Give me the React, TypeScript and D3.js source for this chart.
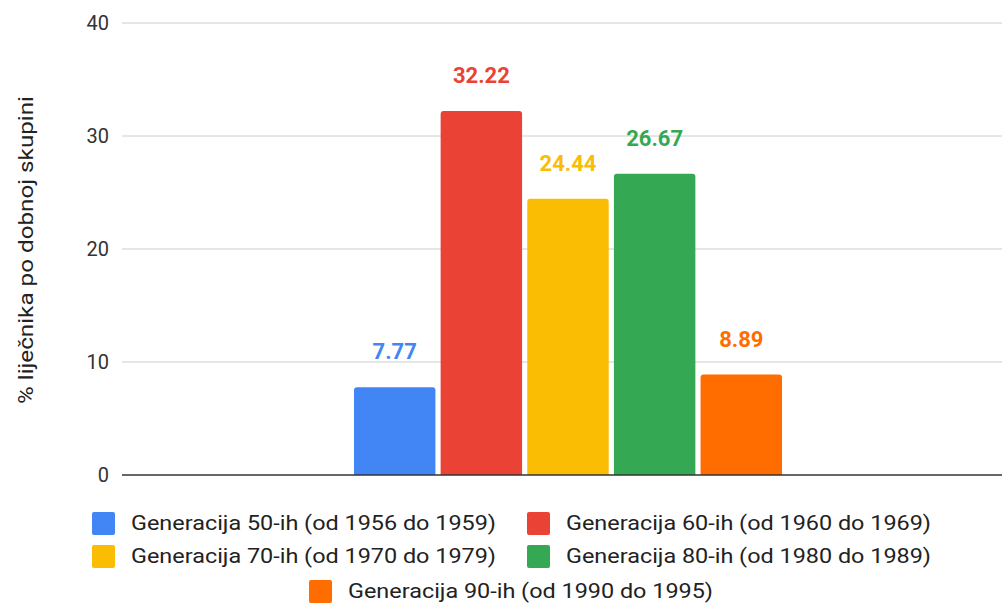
import React from "react";
import * as d3 from "d3";

const categories = [""];
const seriesNames = [
  "Generacija 50-ih (od 1956 do 1959)",
  "Generacija 60-ih (od 1960 do 1969)",
  "Generacija 70-ih (od 1970 do 1979)",
  "Generacija 80-ih (od 1980 do 1989)",
  "Generacija 90-ih (od 1990 do 1995)",
];
const seriesValues = [7.77, 32.22, 24.44, 26.67, 8.89];
const seriesColors = ["#4285F4", "#EA4335", "#FBBC04", "#34A853", "#FF6D01"];
const yTicks = [0, 10, 20, 30, 40];
const yTitle = "% liječnika po dobnoj skupini";

const W = 1002;
const H = 603;
const left = 122;
const right = 1014;
const top = 23;
const bottom = 475;

function roundTopRect(x: number, y: number, w: number, h: number, r: number) {
  const rr = Math.min(r, h, w / 2);
  return `M${x},${y + h}V${y + rr}Q${x},${y} ${x + rr},${y}H${x + w - rr}Q${x + w},${y} ${x + w},${y + rr}V${y + h}Z`;
}

export default function App() {
  const y = d3.scaleLinear().domain([0, 40]).range([bottom, top]);
  const x0 = d3.scaleBand().domain(categories).range([left, right]).paddingInner(0).paddingOuter(0.542);
  const x1 = d3
    .scaleBand()
    .domain(seriesNames)
    .range([0, x0.bandwidth()])
    .paddingInner(0.06)
    .paddingOuter(0);
  const font = "Roboto, 'Noto Sans', sans-serif";

  const legendItems = [
    { i: 0, x: 92, y: 523 },
    { i: 1, x: 527, y: 523 },
    { i: 2, x: 92, y: 556 },
    { i: 3, x: 527, y: 556 },
    { i: 4, x: 309, y: 591 },
  ];

  return (
    <svg
      width={W}
      height={H}
      style={{ position: "absolute", left: 0, top: 0, background: "#fff" }}
      fontFamily={font}
    >
      {yTicks.map((t) => (
        <g key={t}>
          {t !== 0 && (
            <line x1={left} x2={W} y1={y(t)} y2={y(t)} stroke="#cccccc" strokeWidth={1} />
          )}
          <text x={109} y={y(t)} dy="0.36em" textAnchor="end" fontSize={20} fill="#333">
            {t}
          </text>
        </g>
      ))}
      <text
        transform={`translate(33,250) rotate(-90)`}
        textAnchor="middle"
        fontSize={20}
        fill="#222"
        textLength={308}
        lengthAdjust="spacingAndGlyphs"
      >
        {yTitle}
      </text>
      {categories.map((c) => (
        <g key={c} transform={`translate(${x0(c)},0)`}>
          {seriesNames.map((s, i) => {
            const v = seriesValues[i];
            const bx = x1(s)!;
            const bw = x1.bandwidth();
            return (
              <g key={s}>
                <path d={roundTopRect(bx, y(v), bw, y(0) - y(v), 3)} fill={seriesColors[i]} />
                <text
                  x={bx + bw / 2}
                  y={y(v) - 28}
                  textAnchor="middle"
                  fontSize={22}
                  fontWeight="bold"
                  fill={seriesColors[i]}
                >
                  {v.toFixed(2)}
                </text>
              </g>
            );
          })}
        </g>
      ))}
      <line x1={left} x2={W} y1={y(0)} y2={y(0)} stroke="#333" strokeWidth={1.5} />
      {legendItems.map(({ i, x, y: ly }) => (
        <g key={i}>
          <rect x={x} y={ly - 11} width={23} height={23} rx={2} fill={seriesColors[i]} />
          <text
            x={x + 39}
            y={ly}
            dy="0.36em"
            fontSize={20}
            fill="#222"
            textLength={365}
            lengthAdjust="spacingAndGlyphs"
          >
            {seriesNames[i]}
          </text>
        </g>
      ))}
    </svg>
  );
}
